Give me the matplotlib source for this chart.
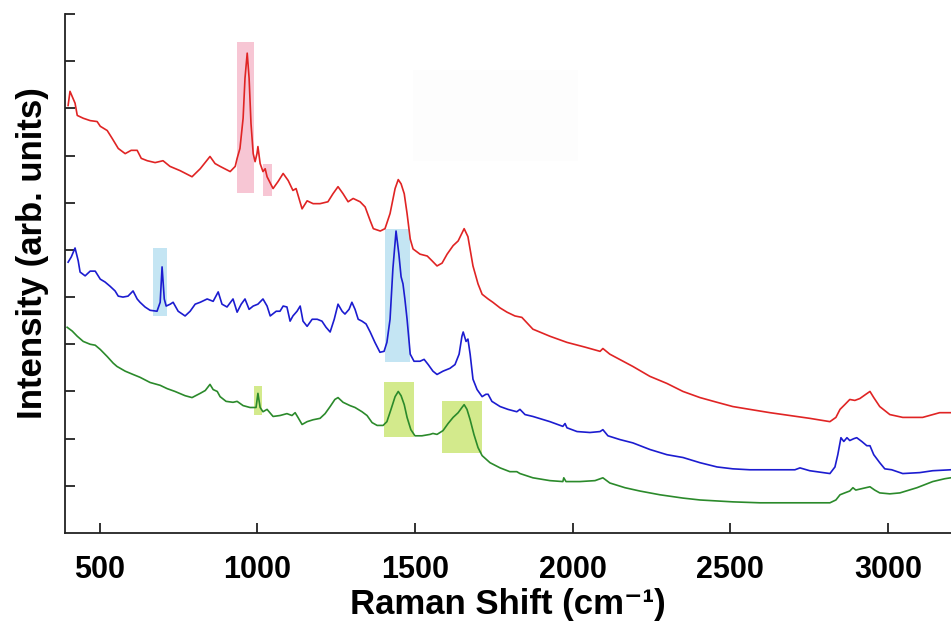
import numpy as np
import matplotlib
matplotlib.use("Agg")
import matplotlib.pyplot as plt
from matplotlib.patches import Rectangle

# ── Spectra (Raman shift in cm-1, intensity in arbitrary offset units) ─────────
red_x = [400, 406, 422, 429, 448, 470, 492, 502, 524, 540, 559, 581, 600, 619, 632, 651, 676, 701,
         723, 755, 793, 819, 850, 866, 882, 914, 930, 936, 945, 955, 961, 968, 974, 980, 987, 993,
         999, 1002, 1009, 1018, 1025, 1031, 1050, 1066, 1082, 1098, 1113, 1123, 1142, 1158, 1177,
         1199, 1224, 1240, 1256, 1272, 1288, 1304, 1326, 1342, 1358, 1368, 1390, 1405, 1421, 1437,
         1447, 1456, 1466, 1475, 1485, 1494, 1516, 1539, 1554, 1570, 1586, 1602, 1621, 1637, 1656,
         1668, 1684, 1700, 1713, 1732, 1747, 1770, 1792, 1817, 1839, 1874, 1928, 1982, 2039, 2087,
         2096, 2118, 2191, 2245, 2299, 2350, 2404, 2458, 2508, 2562, 2626, 2689, 2752, 2816, 2835,
         2848, 2863, 2879, 2895, 2911, 2930, 2943, 2955, 2974, 3006, 3047, 3110, 3164, 3199]
red_y = [9.06, 9.36, 9.11, 8.85, 8.79, 8.74, 8.72, 8.62, 8.53, 8.36, 8.15, 8.04, 8.11, 8.11, 7.94,
         7.89, 7.85, 7.89, 7.77, 7.68, 7.55, 7.72, 7.98, 7.83, 7.77, 7.66, 7.77, 7.94, 8.15, 8.79,
         9.64, 10.17, 9.64, 8.68, 8.04, 7.87, 8.04, 8.19, 7.83, 7.66, 7.72, 7.55, 7.30, 7.45, 7.62,
         7.47, 7.26, 7.30, 6.87, 7.04, 6.98, 6.98, 7.02, 7.19, 7.34, 7.19, 7.02, 7.09, 7.02, 6.91,
         6.62, 6.45, 6.40, 6.45, 6.77, 7.30, 7.49, 7.40, 7.19, 6.77, 6.23, 6.02, 5.91, 5.87, 5.77,
         5.66, 5.72, 5.91, 6.09, 6.19, 6.45, 6.28, 5.66, 5.28, 5.06, 4.96, 4.89, 4.77, 4.68, 4.60,
         4.57, 4.32, 4.17, 4.04, 3.94, 3.85, 3.91, 3.79, 3.53, 3.32, 3.17, 3.00, 2.87, 2.77, 2.68,
         2.62, 2.55, 2.49, 2.43, 2.36, 2.45, 2.62, 2.72, 2.83, 2.81, 2.85, 2.94, 3.00, 2.87, 2.68,
         2.51, 2.45, 2.45, 2.55, 2.55]

blue_x = [400, 410, 422, 432, 438, 454, 470, 486, 502, 517, 533, 549, 559, 574, 590, 606, 619, 628,
          644, 660, 682, 692, 698, 705, 711, 724, 733, 749, 771, 787, 803, 819, 841, 860, 876, 888,
          904, 923, 936, 949, 961, 974, 987, 1002, 1018, 1031, 1041, 1060, 1072, 1082, 1094, 1104,
          1113, 1126, 1136, 1145, 1158, 1174, 1190, 1205, 1218, 1231, 1244, 1256, 1269, 1278, 1291,
          1300, 1310, 1320, 1332, 1345, 1358, 1373, 1389, 1402, 1411, 1421, 1430, 1440, 1449, 1456,
          1462, 1468, 1475, 1485, 1497, 1516, 1529, 1542, 1557, 1570, 1589, 1611, 1627, 1640, 1649,
          1653, 1662, 1668, 1675, 1684, 1697, 1713, 1725, 1732, 1744, 1770, 1795, 1823, 1833, 1849,
          1874, 1928, 1969, 1976, 1982, 2014, 2055, 2087, 2096, 2112, 2150, 2191, 2245, 2299, 2350,
          2404, 2458, 2508, 2562, 2657, 2705, 2721, 2752, 2816, 2832, 2841, 2851, 2860, 2870, 2879,
          2892, 2901, 2917, 2933, 2943, 2955, 2974, 2990, 3012, 3047, 3101, 3142, 3199]
blue_y = [5.74, 5.85, 6.04, 5.77, 5.53, 5.45, 5.55, 5.55, 5.38, 5.32, 5.23, 5.13, 5.02, 5.00, 5.02,
          5.13, 4.96, 4.89, 4.79, 4.72, 4.70, 4.89, 5.64, 4.96, 4.81, 4.85, 4.89, 4.70, 4.60, 4.70,
          4.85, 4.89, 4.96, 4.91, 5.11, 4.85, 4.79, 4.96, 4.68, 4.85, 4.96, 4.74, 4.81, 4.85, 4.96,
          4.81, 4.60, 4.70, 4.70, 4.81, 4.79, 4.49, 4.60, 4.70, 4.81, 4.49, 4.38, 4.53, 4.53, 4.49,
          4.36, 4.26, 4.53, 4.85, 4.70, 4.64, 4.74, 4.89, 4.74, 4.53, 4.49, 4.43, 4.26, 4.04, 3.83,
          3.85, 4.04, 4.53, 5.60, 6.40, 5.91, 5.43, 5.28, 4.96, 4.53, 3.79, 3.64, 3.64, 3.68, 3.57,
          3.43, 3.36, 3.43, 3.49, 3.57, 3.79, 4.17, 4.26, 4.06, 4.11, 3.79, 3.26, 3.04, 2.89, 2.94,
          2.94, 2.79, 2.68, 2.62, 2.57, 2.62, 2.51, 2.47, 2.36, 2.26, 2.32, 2.23, 2.15, 2.13, 2.15,
          2.19, 2.06, 1.98, 1.91, 1.77, 1.66, 1.60, 1.49, 1.40, 1.36, 1.34, 1.34, 1.34, 1.38, 1.32,
          1.26, 1.40, 1.66, 2.02, 1.94, 2.02, 1.96, 2.00, 2.02, 1.94, 1.85, 1.85, 1.66, 1.49, 1.36,
          1.34, 1.26, 1.28, 1.32, 1.34]

green_x = [397, 413, 429, 448, 470, 486, 502, 524, 543, 555, 581, 606, 628, 660, 692, 714, 739, 771,
           793, 819, 835, 850, 860, 873, 882, 901, 923, 936, 955, 977, 996, 1002, 1009, 1018, 1031,
           1050, 1072, 1094, 1110, 1120, 1129, 1142, 1158, 1177, 1199, 1215, 1231, 1246, 1256, 1272,
           1294, 1310, 1332, 1348, 1364, 1380, 1399, 1411, 1424, 1437, 1447, 1456, 1466, 1475, 1487,
           1500, 1522, 1548, 1557, 1570, 1589, 1605, 1621, 1637, 1649, 1656, 1665, 1675, 1687, 1700,
           1713, 1738, 1770, 1801, 1823, 1833, 1874, 1928, 1969, 1972, 1979, 2023, 2071, 2096, 2118,
           2166, 2213, 2277, 2350, 2404, 2508, 2594, 2721, 2816, 2835, 2848, 2863, 2879, 2889, 2898,
           2917, 2943, 2958, 2974, 3006, 3038, 3092, 3142, 3180, 3199]
green_y = [4.36, 4.28, 4.17, 4.06, 4.00, 3.98, 3.89, 3.74, 3.60, 3.53, 3.43, 3.36, 3.30, 3.19, 3.13,
           3.06, 3.00, 2.91, 2.87, 2.96, 3.02, 3.15, 3.04, 3.00, 2.89, 2.79, 2.77, 2.79, 2.70, 2.66,
           2.66, 2.96, 2.66, 2.57, 2.62, 2.47, 2.49, 2.53, 2.49, 2.55, 2.45, 2.30, 2.36, 2.40, 2.43,
           2.53, 2.68, 2.83, 2.87, 2.77, 2.70, 2.66, 2.57, 2.49, 2.34, 2.28, 2.28, 2.36, 2.62, 2.89,
           3.00, 2.91, 2.72, 2.45, 2.19, 2.06, 2.06, 2.09, 2.11, 2.09, 2.17, 2.32, 2.45, 2.55, 2.66,
           2.72, 2.62, 2.40, 2.09, 1.81, 1.64, 1.49, 1.38, 1.30, 1.30, 1.26, 1.17, 1.11, 1.09, 1.17,
           1.09, 1.09, 1.11, 1.17, 1.06, 0.96, 0.89, 0.81, 0.74, 0.70, 0.66, 0.64, 0.64, 0.64, 0.70,
           0.81, 0.85, 0.89, 0.96, 0.91, 0.94, 0.98, 0.91, 0.85, 0.83, 0.85, 0.96, 1.09, 1.15, 1.17]

# highlighted bands: (x0, x1, y0, y1)
pink_bands  = [(936, 990, 7.21, 10.40), (1018, 1047, 7.15, 7.83)]
blue_bands  = [(670, 714, 4.60, 6.04), (1405, 1485, 3.62, 6.45)]
green_bands = [(990, 1015, 2.51, 3.11), (1402, 1497, 2.04, 3.21), (1586, 1713, 1.70, 2.79)]
faint_box   = (1494, 2017, 7.89, 9.81)

xticks = [500, 1000, 1500, 2000, 2500, 3000]

C = {"red": "#e02424", "blue": "#1c1cd0", "green": "#2b8a2b",
     "pink": "#f7c6d4", "lblue": "#c4e5f3", "lgreen": "#d3ea8c"}

plt.rcParams["font.family"] = ["Liberation Sans", "DejaVu Sans"]

fig = plt.figure(figsize=(9.51, 6.21), dpi=100)
ax = fig.add_axes([0.0683, 0.1417, 0.9317, 0.8358])

def band(box, color, **kw):
    x0, x1, y0, y1 = box
    ax.add_patch(Rectangle((x0, y0), x1 - x0, y1 - y0, color=color, lw=0, zorder=1, **kw))

band(faint_box, "#fdfdfd")
for b in pink_bands:
    band(b, C["pink"])
for b in blue_bands:
    band(b, C["lblue"])
for b in green_bands:
    band(b, C["lgreen"])

ax.plot(red_x, red_y, color=C["red"], lw=1.2, zorder=3)
ax.plot(blue_x, blue_y, color=C["blue"], lw=1.2, zorder=3)
ax.plot(green_x, green_y, color=C["green"], lw=1.2, zorder=3)

ax.set_xlim(390, 3200)
ax.set_ylim(0, 11)
ax.set_xticks(xticks)
ax.set_yticks(np.arange(1, 12))
ax.set_yticklabels([])
ax.tick_params(direction="in", length=7, width=1.3, color="#222222")
ax.tick_params(axis="x", pad=16, labelsize=22)
for lab in ax.get_xticklabels():
    lab.set_fontweight("bold")
for s in ["top", "right"]:
    ax.spines[s].set_visible(False)
for s in ["left", "bottom"]:
    ax.spines[s].set_linewidth(1.3)
    ax.spines[s].set_color("#222222")

ax.set_xlabel("Raman Shift (cm\u207b\u00b9)", fontsize=25, fontweight="bold", labelpad=2)
ax.set_ylabel("Intensity (arb. units)", fontsize=25, fontweight="bold", labelpad=8)
ax.yaxis.label.set_y(0.54)

fig.savefig("out.png", dpi=100)
